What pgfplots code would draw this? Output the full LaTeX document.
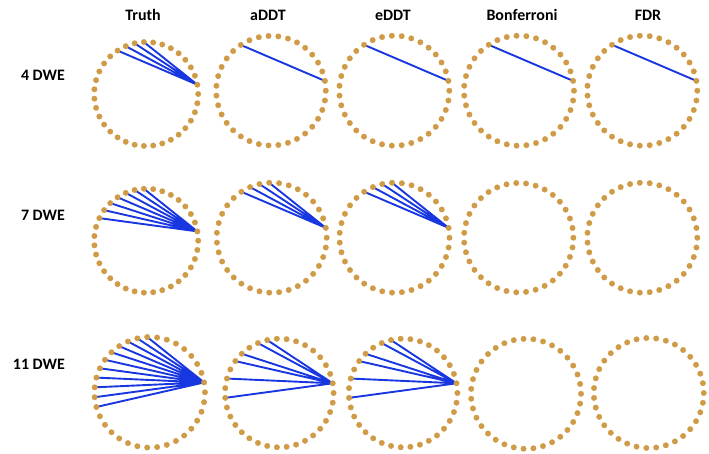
\documentclass[border=0pt]{standalone}
\usepackage{pgfplots}
\pgfplotsset{compat=1.18}
\usepackage{pgfplotstable}
\usepgfplotslibrary{polar}
\usepackage{fontspec}
\setmainfont{Carlito}
\definecolor{dotc}{RGB}{207,155,70}
\definecolor{edgec}{RGB}{25,55,225}

% 35 nodes on a circle: angle (deg), radius
\pgfplotstableread{
a r
0 1
10.2857 1
20.5714 1
30.8571 1
41.1429 1
51.4286 1
61.7143 1
72 1
82.2857 1
92.5714 1
102.857 1
113.143 1
123.429 1
133.714 1
144 1
154.286 1
164.571 1
174.857 1
185.143 1
195.429 1
205.714 1
216 1
226.286 1
236.571 1
246.857 1
257.143 1
267.429 1
277.714 1
288 1
298.286 1
308.571 1
318.857 1
329.143 1
339.429 1
349.714 1
}\nodes

\pgfplotsset{panel/.style={hide axis, clip=false, anchor=origin,
  xmin=-1, xmax=1, ymin=-1, ymax=1, data cs=polar},
  edge/.style={edgec, line width=1.9bp, no marks, line join=round, line cap=round}}

\newcommand{\panel}[4]{%
\begin{axis}[panel, at={(#1bp,#2bp)}, x=#3bp, y=#3bp]
\addplot[only marks, mark=*, mark size=2.7bp, color=dotc] table[x=a,y=r]{\nodes};
#4
\end{axis}}

\begin{document}
\begin{tikzpicture}
\useasboundingbox (0,0) rectangle (709bp,454bp);
% headers
\begin{scope}[every node/.style={font=\bfseries\fontsize{16}{18}\selectfont, inner sep=0pt}]
\node at (143bp,439bp) {Truth};
\node at (268bp,439bp) {aDDT};
\node at (393bp,439bp) {eDDT};
\node at (522bp,439bp) {Bonferroni};
\node at (648bp,439bp) {FDR};
\node[anchor=east] at (65bp,379bp) {4 DWE};
\node[anchor=east] at (65bp,239bp) {7 DWE};
\node[anchor=east] at (65bp,90bp) {11 DWE};
\end{scope}

% Row 1: 4 DWE
\panel{146.2}{360}{52}{\addplot[edge] coordinates {(10.2857,1) (92.5714,1) (10.2857,1) (102.857,1) (10.2857,1) (113.143,1) (10.2857,1) (123.429,1)};}
\panel{271}{363.3}{54.8}{\addplot[edge] coordinates {(10.2857,1) (123.429,1)};}
\panel{394.3}{363.3}{55}{\addplot[edge] coordinates {(10.2857,1) (123.429,1)};}
\panel{519}{363.3}{55}{\addplot[edge] coordinates {(10.2857,1) (123.429,1)};}
\panel{642.3}{363.3}{55}{\addplot[edge] coordinates {(10.2857,1) (123.429,1)};}

% Row 2: 7 DWE
\panel{146.2}{213.3}{52}{\addplot[edge] coordinates {(10.2857,1) (92.5714,1) (10.2857,1) (102.857,1) (10.2857,1) (113.143,1) (10.2857,1) (123.429,1) (10.2857,1) (133.714,1) (10.2857,1) (144,1) (10.2857,1) (154.286,1)};}
\panel{271.7}{216.3}{55}{\addplot[edge] coordinates {(10.2857,1) (92.5714,1) (10.2857,1) (102.857,1) (10.2857,1) (113.143,1) (10.2857,1) (123.429,1)};}
\panel{394.5}{216.3}{55}{\addplot[edge] coordinates {(10.2857,1) (92.5714,1) (10.2857,1) (102.857,1) (10.2857,1) (113.143,1) (10.2857,1) (123.429,1)};}
\panel{518.7}{216.3}{54.7}{}
\panel{642.3}{216.3}{55}{}

% Row 3: 11 DWE
\panel{149.7}{61.7}{55.3}{\addplot[edge] coordinates {(10.2857,1) (92.5714,1) (10.2857,1) (102.857,1) (10.2857,1) (113.143,1) (10.2857,1) (123.429,1) (10.2857,1) (133.714,1) (10.2857,1) (144,1) (10.2857,1) (154.286,1) (10.2857,1) (164.571,1) (10.2857,1) (174.857,1) (10.2857,1) (185.143,1) (10.2857,1) (195.429,1)};}
\panel{279.3}{61}{54.3}{\addplot[edge] coordinates {(10.2857,1) (102.857,1) (10.2857,1) (113.143,1) (10.2857,1) (133.714,1) (10.2857,1) (144,1) (10.2857,1) (164.571,1) (10.2857,1) (185.143,1)};}
\panel{403.1}{61}{54.3}{\addplot[edge] coordinates {(10.2857,1) (102.857,1) (10.2857,1) (113.143,1) (10.2857,1) (133.714,1) (10.2857,1) (144,1) (10.2857,1) (164.571,1) (10.2857,1) (185.143,1)};}
\panel{526}{60.2}{55}{}
\panel{648.8}{61}{55}{}
\end{tikzpicture}
\end{document}
